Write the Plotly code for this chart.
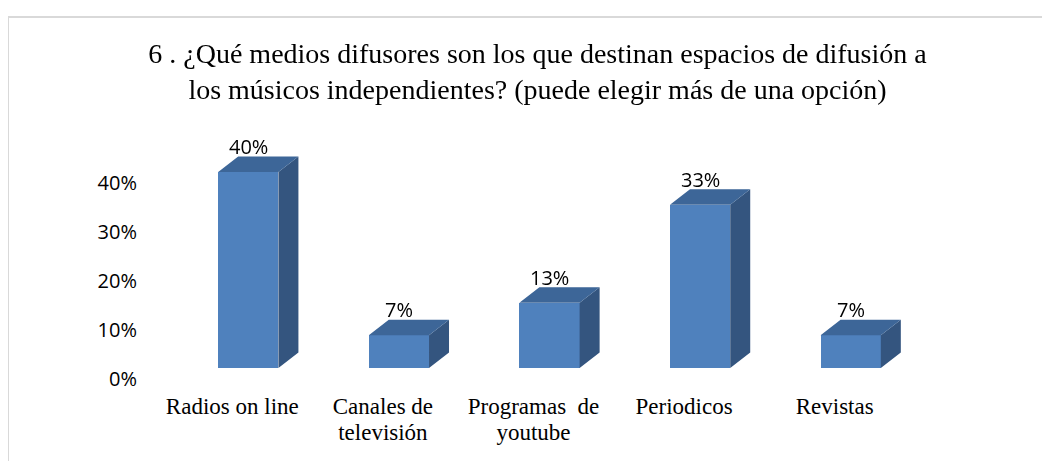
import plotly.graph_objects as go

# ---- data ----
categories = ["Radios on line", "Canales de<br>televisión", "Programas  de<br>youtube", "Periodicos", "Revistas"]
values = [0.40, 0.0667, 0.1333, 0.3333, 0.0667]
y_ticks = [0.0, 0.1, 0.2, 0.3, 0.4]
y_tick_labels = ["0%", "10%", "20%", "30%", "40%"]
title_text = ("6 . ¿Qué medios difusores son los que destinan espacios de difusión a<br>"
              "los músicos independientes? (puede elegir más de una opción)")

# ---- styling / geometry (figure pixel coords; page shows an 8px body offset) ----
W, H = 1050, 461
ML, MR, MT, MB = 150, 50, 122, 101
plot_w = W - ML - MR
plot_h = H - MT - MB
px_per_cat = 150.6
first_center_px = 240.3
x0 = (ML - first_center_px) / px_per_cat
x1 = x0 + plot_w / px_per_cat
px_per_unit_y = 490.0
y_max = plot_h / px_per_unit_y

bar_w = 0.40
DX = 20.0 / px_per_cat      # 3D depth offset (x)
DY = 15.5 / px_per_unit_y   # 3D depth offset (y)

FRONT = "#4F81BD"
TOP = "#3D6698"
SIDE = "#34557F"
SERIF = "Liberation Serif"
SANS = "Open Sans"

idx = list(range(len(categories)))
line1 = [c.split("<br>")[0] for c in categories]
line2 = [c.split("<br>")[1] if "<br>" in c else "" for c in categories]

fig = go.Figure()

# front faces
fig.add_trace(go.Bar(x=idx, y=values, width=bar_w, marker=dict(color=FRONT, line=dict(width=0)),
                     hoverinfo="skip", showlegend=False))

# side faces & top faces derived from the data
sx, sy, tx, ty = [], [], [], []
for i, v in zip(idx, values):
    r = i + bar_w / 2
    l = i - bar_w / 2
    sx += [r, r + DX, r + DX, r, r, None]
    sy += [0, DY, v + DY, v, 0, None]
    tx += [l, l + DX, r + DX, r, l, None]
    ty += [v, v + DY, v + DY, v, v, None]

fig.add_trace(go.Scatter(x=sx, y=sy, mode="lines", fill="toself", fillcolor=SIDE,
                         line=dict(width=0, color=SIDE), hoverinfo="skip", showlegend=False))
fig.add_trace(go.Scatter(x=tx, y=ty, mode="lines", fill="toself", fillcolor=TOP,
                         line=dict(width=0, color=TOP), hoverinfo="skip", showlegend=False))

# invisible trace to carry the second line of category labels
fig.add_trace(go.Scatter(x=idx, y=values, xaxis="x2", mode="markers", opacity=0,
                         hoverinfo="skip", showlegend=False))

# data labels
for i, v in zip(idx, values):
    fig.add_annotation(x=i, y=v + DY, text=f"{v:.0%}", showarrow=False, yanchor="middle",
                       yshift=10, font=dict(family=SANS, size=20, color="#000000"))

# chart border
fig.add_shape(type="rect", xref="paper", yref="paper",
              x0=(0 - ML) / plot_w, x1=(W + 20 - ML) / plot_w,
              y0=(H - MB - (H + 20)) / plot_h, y1=(H - MB - 9) / plot_h,
              line=dict(color="#D9D9D9", width=2), fillcolor="rgba(0,0,0,0)", layer="below")

fig.update_layout(
    width=W, height=H,
    margin=dict(l=ML, r=MR, t=MT, b=MB),
    paper_bgcolor="white", plot_bgcolor="white",
    title=dict(text=title_text, xref="container", yref="container", x=529.5 / W, xanchor="center",
               y=1 - 55 / H, yanchor="top",
               font=dict(family=SERIF, size=28, color="#000000")),
    bargap=0,
    showlegend=False,
    xaxis=dict(range=[x0, x1], tickmode="array", tickvals=idx, ticktext=line1,
               showgrid=False, zeroline=False, showline=False, ticks="",
               ticklabelshift=-16, ticklabelstandoff=22,
               tickfont=dict(family=SERIF, size=23, color="#000000")),
    xaxis2=dict(range=[x0, x1], overlaying="x", side="bottom", anchor="y",
                tickmode="array", tickvals=idx, ticktext=line2,
                showgrid=False, zeroline=False, showline=False, ticks="",
                ticklabelshift=-16, ticklabelstandoff=48,
                tickfont=dict(family=SERIF, size=23, color="#000000")),
    yaxis=dict(range=[0, y_max], tickmode="array", tickvals=y_ticks, ticktext=y_tick_labels,
               showgrid=False, zeroline=False, showline=False, ticks="",
               ticklabelshift=11, ticklabelstandoff=20,
               tickfont=dict(family=SANS, size=20, color="#000000")),
)

fig.write_html("out.html")
